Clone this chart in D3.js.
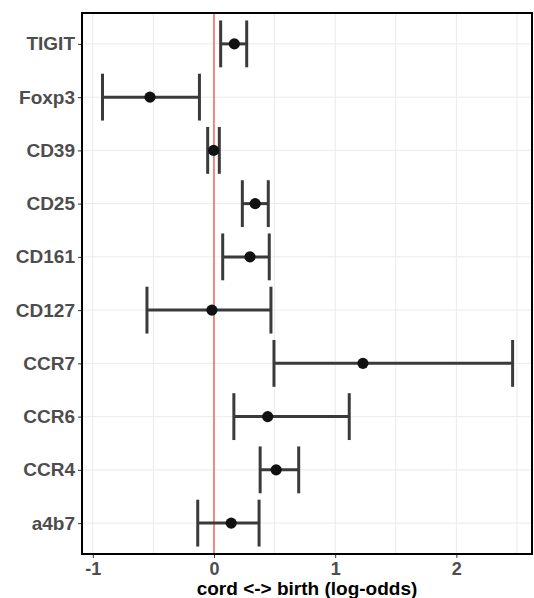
<!DOCTYPE html>
<html>
<head>
<meta charset="utf-8">
<script src="https://cdn.jsdelivr.net/npm/d3@7"></script>
<style>
  body { margin: 0; background: #fff; }
  svg { display: block; font-family: "Liberation Sans", Arial, sans-serif; }
</style>
</head>
<body>
<svg id="chart" width="534" height="598"></svg>
<script>
const markers = ["TIGIT", "Foxp3", "CD39", "CD25", "CD161", "CD127", "CCR7", "CCR6", "CCR4", "a4b7"]
const estimate = [0.168, -0.528, -0.003, 0.34, 0.297, -0.017, 1.229, 0.443, 0.513, 0.142]
const lower = [0.055, -0.92, -0.052, 0.234, 0.072, -0.553, 0.495, 0.164, 0.381, -0.134]
const upper = [0.27, -0.12, 0.044, 0.448, 0.456, 0.47, 2.464, 1.116, 0.699, 0.372]
const xTicks = [-1, 0, 1, 2]
const xGrid = [-1, -0.5, 0, 0.5, 1, 1.5, 2, 2.5]

const rows = markers.map((m, i) => ({ name: m, est: estimate[i], lo: lower[i], hi: upper[i] }))

const svg = d3.select("#chart")
const panelLeft = 82, panelRight = 532, panelTop = 13, panelBottom = 554

const x = d3.scaleLinear().domain([-1.089, 2.624]).range([panelLeft, panelRight])
const y = d3.scalePoint().domain(markers).range([panelTop, panelBottom]).padding(0.58)
const step = y.step()

// grid
svg.append("g").selectAll("line")
    .data(xGrid)
    .enter().append("line")
    .attr("x1", d => x(d)).attr("x2", d => x(d))
    .attr("y1", panelTop).attr("y2", panelBottom)
    .attr("stroke", "#ebebeb").attr("stroke-width", 1)

svg.append("g").selectAll("line")
    .data(markers)
    .enter().append("line")
    .attr("x1", panelLeft).attr("x2", panelRight)
    .attr("y1", d => y(d)).attr("y2", d => y(d))
    .attr("stroke", "#ebebeb").attr("stroke-width", 1)

// zero line
svg.append("line")
    .attr("x1", x(0)).attr("x2", x(0))
    .attr("y1", panelTop).attr("y2", panelBottom)
    .attr("stroke", "#f5412f").attr("stroke-width", 1.2)

// error bars
const bars = svg.append("g").attr("stroke", "#3a3a3a").attr("stroke-width", 3)
bars.selectAll(".h")
    .data(rows)
    .enter().append("line")
    .attr("x1", d => x(d.lo)).attr("x2", d => x(d.hi))
    .attr("y1", d => y(d.name)).attr("y2", d => y(d.name))
bars.selectAll(".capl")
    .data(rows)
    .enter().append("line")
    .attr("x1", d => x(d.lo)).attr("x2", d => x(d.lo))
    .attr("y1", d => y(d.name) - step * 0.44).attr("y2", d => y(d.name) + step * 0.44)
bars.selectAll(".capr")
    .data(rows)
    .enter().append("line")
    .attr("x1", d => x(d.hi)).attr("x2", d => x(d.hi))
    .attr("y1", d => y(d.name) - step * 0.44).attr("y2", d => y(d.name) + step * 0.44)

// points
svg.append("g").selectAll("circle")
    .data(rows)
    .enter().append("circle")
    .attr("cx", d => x(d.est))
    .attr("cy", d => y(d.name))
    .attr("r", 5.6)
    .attr("fill", "#111")

// panel border
svg.append("rect")
    .attr("x", panelLeft).attr("y", panelTop)
    .attr("width", panelRight - panelLeft).attr("height", panelBottom - panelTop)
    .attr("fill", "none").attr("stroke", "#000").attr("stroke-width", 2)

// axes
const xAxis = svg.append("g")
    .attr("transform", `translate(0,${panelBottom + 1})`)
    .call(d3.axisBottom(x).tickValues(xTicks).tickFormat(d => String(d)).tickSize(3).tickPadding(4))
xAxis.select(".domain").remove()
xAxis.selectAll("line").attr("stroke", "#333")
xAxis.selectAll("text")
    .attr("fill", "#4d4d4d").attr("font-size", 18).attr("font-weight", "bold")
    .attr("font-family", "Liberation Sans, Arial, sans-serif")

const yAxis = svg.append("g")
    .attr("transform", `translate(${panelLeft - 1},0)`)
    .call(d3.axisLeft(y).tickSize(3).tickPadding(3))
yAxis.select(".domain").remove()
yAxis.selectAll("line").attr("stroke", "#333")
yAxis.selectAll("text")
    .attr("fill", "#4d4d4d").attr("font-size", 19).attr("font-weight", "bold")
    .attr("font-family", "Liberation Sans, Arial, sans-serif")

svg.append("text")
    .attr("x", (panelLeft + panelRight) / 2)
    .attr("y", 595)
    .attr("text-anchor", "middle")
    .attr("font-size", 19)
    .attr("font-weight", "bold")
    .attr("fill", "#000")
    .text("cord <-> birth (log-odds)")
</script>
</body>
</html>
